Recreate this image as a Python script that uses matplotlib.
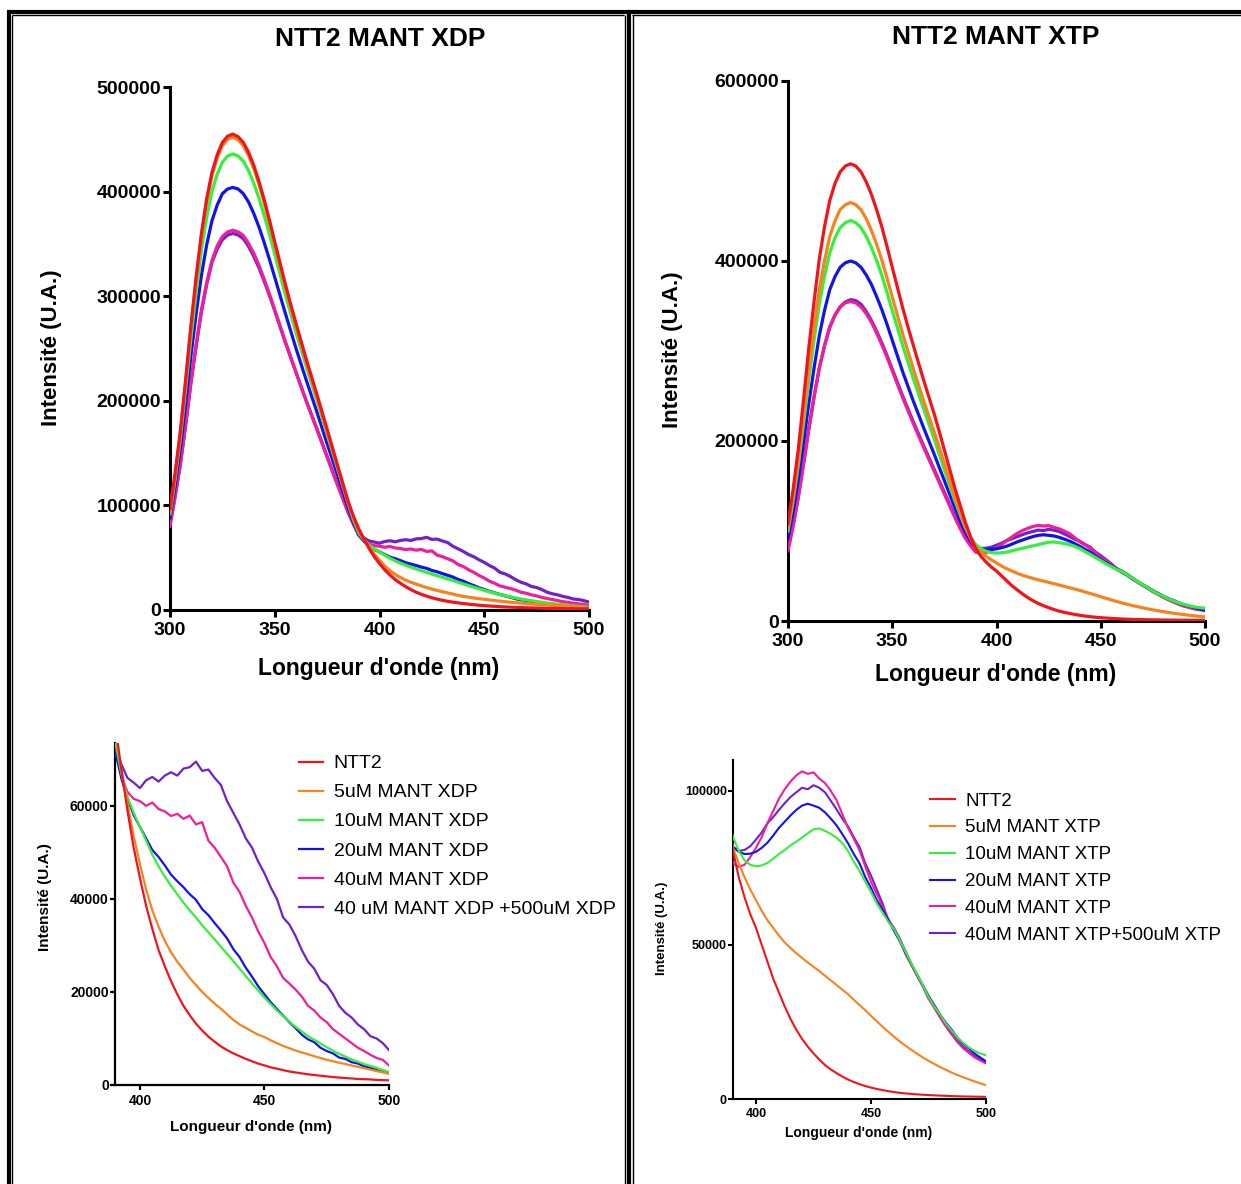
import matplotlib
matplotlib.use("Agg")
import matplotlib.pyplot as plt
from matplotlib.lines import Line2D

plt.rcParams["font.family"] = ["Liberation Sans", "DejaVu Sans"]

# wavelengths (nm), 2.5 nm steps
wl_peak = [300, 302.5, 305, 307.5, 310, 312.5, 315, 317.5, 320, 322.5, 325, 327.5,
           330, 332.5, 335, 337.5, 340, 342.5, 345, 347.5, 350, 352.5, 355, 357.5,
           360, 362.5, 365, 367.5, 370, 372.5, 375, 377.5, 380, 382.5, 385, 387.5]
wl_tail = [390, 392.5, 395, 397.5, 400, 402.5, 405, 407.5, 410, 412.5, 415, 417.5, 420, 422.5,
           425, 427.5, 430, 432.5, 435, 437.5, 440, 442.5, 445, 447.5, 450, 452.5, 455, 457.5,
           460, 462.5, 465, 467.5, 470, 472.5, 475, 477.5, 480, 482.5, 485, 487.5, 490, 492.5,
           495, 497.5, 500]
wavelength = wl_peak + wl_tail

# ---- NTT2 MANT XDP ----
xdp_ntt2 = [97000, 132000, 172000, 221000, 272000, 319000, 360000, 393000, 418000, 435000,
            447000, 453000, 455000, 452500, 447000, 437500, 425000, 409500, 392000, 372500,
            352000, 332000, 312000, 293000, 275000, 257500, 240000, 223500, 207000, 190000,
            173000, 155500, 138000, 121000, 104000, 90000,
            78000, 68000, 59000, 51000, 44500, 38500, 33500, 29000, 25500, 22300, 19500, 17000,
            15000, 13200, 11700, 10400, 9300, 8300, 7500, 6800, 6200, 5600, 5100, 4600, 4200,
            3800, 3500, 3200, 2900, 2700, 2500, 2300, 2150, 2000, 1850, 1700, 1600, 1500, 1400,
            1300, 1250, 1200, 1100, 1050, 1000]
xdp_5 = [94000, 129500, 170000, 219000, 270000, 316000, 357000, 390000, 415000, 432000,
         444000, 450000, 452000, 449500, 444000, 434500, 422000, 406500, 389000, 369500,
         349000, 329000, 309000, 290000, 272000, 254500, 237000, 220500, 204000, 187000,
         170000, 153000, 136000, 119500, 103000, 88500,
         76000, 68000, 60500, 53500, 47500, 42000, 37500, 34000, 31000, 28500, 26500, 24800,
         23000, 21500, 20000, 18700, 17500, 16400, 15200, 14000, 13000, 12300, 11500, 10800,
         10300, 9600, 9000, 8400, 7900, 7400, 7000, 6600, 6200, 5800, 5400, 5100, 4800, 4500,
         4200, 3900, 3600, 3300, 3000, 2700, 2400]
xdp_10 = [92000, 126000, 165000, 212000, 260000, 304000, 344000, 375000, 400000, 416500,
          428000, 434000, 436000, 434000, 429000, 420000, 408000, 393500, 377000, 359000,
          340000, 321000, 302000, 284000, 266000, 249500, 233000, 217000, 201000, 184500,
          168000, 151500, 135000, 118500, 102000, 86500,
          74000, 67000, 62000, 58500, 55500, 52500, 49500, 47000, 44800, 42800, 41000, 39200,
          37500, 36000, 34300, 32800, 31300, 29700, 28200, 26600, 25000, 23400, 21800, 20300,
          18800, 17400, 16000, 14800, 13600, 12500, 11500, 10500, 9700, 8900, 8100, 7400, 6700,
          6100, 5500, 5000, 4500, 4100, 3700, 3200, 2800]
xdp_20 = [88000, 119500, 155000, 198500, 243000, 283500, 320000, 349000, 372000, 387000,
          398000, 402500, 404000, 402500, 398000, 390000, 379000, 366000, 351000, 335000,
          318000, 301000, 284000, 267500, 251000, 235500, 220000, 205000, 190000, 174500,
          159000, 144000, 129000, 113500, 98000, 84000,
          72000, 66000, 61500, 58000, 55500, 53000, 50500, 49000, 47200, 45200, 43800, 42500,
          41000, 39800, 37800, 36500, 34800, 33200, 31500, 29200, 27500, 25200, 23300, 21200,
          19500, 17800, 16300, 14900, 13500, 12200, 10800, 9800, 9200, 8000, 7300, 6800, 5900,
          5600, 4900, 4600, 4000, 3700, 3200, 2900, 2600]
xdp_40 = [80000, 108500, 140000, 178000, 218000, 254000, 287000, 313000, 334000, 348000,
          357000, 361500, 363000, 361500, 358000, 350500, 341000, 329500, 316000, 302000,
          287000, 272000, 257000, 242500, 228000, 214000, 200000, 186500, 173000, 159500,
          146000, 132500, 119000, 106000, 93000, 82000,
          72000, 66500, 63000, 61500, 61000, 60000, 60700, 59300, 58800, 57800, 58300, 57200,
          57900, 56000, 56500, 52500, 51000, 49000, 47000, 43500, 41500, 38500, 36000, 33000,
          30500, 27500, 25500, 23000, 21800, 20500, 19000, 17000, 16000, 14500, 13500, 12000,
          11000, 10000, 9000, 8000, 7300, 6500, 5800, 5400, 4200]
xdp_40_500 = [82000, 109500, 140000, 177000, 217000, 252500, 285000, 311000, 332000, 345000,
              354000, 358500, 360000, 358500, 355000, 347500, 338000, 327000, 314000, 300500,
              286000, 271000, 256000, 242000, 228000, 214000, 200000, 187000, 174000, 160500,
              147000, 133500, 120000, 107500, 95000, 84000,
              73000, 69000, 66000, 65000, 63800, 65500, 66200, 65200, 66500, 67200, 66500, 68000,
              68300, 69500, 67500, 67800, 66000, 64500, 61000, 58500, 56000, 53000, 51000, 48000,
              45500, 42500, 40000, 36000, 34500, 32000, 29000, 26500, 25000, 22500, 21500, 19500,
              17000, 15500, 14500, 13000, 12000, 10500, 10000, 9000, 7500]

# ---- NTT2 MANT XTP ----
xtp_ntt2 = [108000, 147000, 192000, 247000, 304000, 355000, 402000, 438000, 467000, 486000,
            499000, 505500, 508000, 505500, 499000, 488000, 474000, 457000, 438000, 416000,
            393000, 370500, 348000, 327000, 307000, 287500, 268000, 249500, 231000, 211000,
            190000, 169000, 148000, 129000, 110000, 94000,
            80500, 72000, 65500, 60000, 55500, 50000, 44500, 39000, 34500, 30000, 26000, 22500,
            19500, 17000, 14800, 12800, 11000, 9600, 8400, 7300, 6300, 5500, 4800, 4200, 3700,
            3250, 2900, 2550, 2250, 2000, 1800, 1650, 1500, 1380, 1280, 1180, 1100, 1020, 950,
            890, 840, 800, 760, 730, 700]
xtp_5 = [104000, 139500, 180000, 229000, 280000, 326000, 368000, 400000, 427000, 444500,
         457000, 462500, 465000, 462500, 457000, 447000, 434000, 418500, 401000, 381000,
         360000, 339500, 319000, 300000, 281000, 263000, 245000, 228000, 211000, 193000,
         175000, 156500, 138000, 121000, 105000, 92000,
         81500, 76500, 72000, 68000, 64500, 61000, 58000, 55500, 53000, 50800, 49000, 47300,
         45800, 44300, 42900, 41500, 40000, 38500, 37000, 35500, 34000, 32200, 30500, 28800,
         27000, 25200, 23500, 21800, 20200, 18700, 17300, 16000, 14700, 13500, 12400, 11400,
         10400, 9500, 8600, 7800, 7100, 6400, 5700, 5100, 4500]
xtp_10 = [100000, 134000, 174000, 220000, 268000, 312000, 352000, 383000, 409000, 425500,
          437000, 442500, 445000, 442500, 437000, 427500, 415000, 400500, 384000, 365000,
          345000, 325500, 306000, 288000, 270000, 253000, 236000, 219500, 203000, 185500,
          168000, 151000, 134000, 118500, 104000, 93000,
          85000, 80500, 77500, 76000, 75500, 75800, 76600, 78000, 79500, 80800, 82300, 83500,
          84800, 86200, 87500, 87800, 87000, 86000, 84800, 83000, 80500, 77000, 74000, 70500,
          67200, 63500, 60500, 57500, 55000, 51500, 47800, 44000, 40500, 37000, 33200, 30000,
          27500, 24500, 22300, 20000, 18300, 16800, 15600, 14800, 14200]
xtp_20 = [92000, 122000, 158000, 199000, 242000, 281000, 317000, 345000, 368000, 382500,
          393000, 398000, 400000, 398000, 393000, 384500, 374000, 360500, 346000, 329500,
          312000, 294500, 277000, 261000, 245000, 230000, 215000, 200500, 186000, 171000,
          156000, 141000, 126000, 112000, 99000, 89000,
          81800, 80200, 79500, 79600, 80200, 81500, 83200, 85500, 88000, 90000, 92000, 93800,
          95200, 95800, 95200, 94500, 93000, 91000, 88800, 86000, 83000, 79500, 76500, 72000,
          68500, 64500, 61500, 58000, 54500, 51200, 47500, 43800, 40500, 37000, 33500, 30500,
          27500, 24800, 22600, 20000, 18000, 16500, 14800, 13500, 12200]
xtp_40 = [78000, 105500, 138000, 175000, 213000, 249000, 281000, 306000, 327000, 340000,
          349000, 353500, 355000, 353500, 349000, 341500, 332000, 320000, 307000, 293000,
          278000, 263000, 248000, 234000, 220000, 206500, 193000, 180000, 167000, 154000,
          141000, 128000, 115000, 103000, 92000, 83500,
          76500, 75300, 76000, 78500, 81500, 85000, 89500, 93500, 97500, 100500, 103000, 105000,
          106300, 105500, 106000, 104000, 102500, 100000, 97000, 92500, 88000, 84500, 80700,
          75500, 70500, 66500, 62500, 58500, 55000, 51500, 47000, 43500, 40000, 36500, 32500,
          29500, 26500, 23500, 21000, 18500, 16500, 15000, 13500, 12500, 11500]
xtp_40_500 = [80000, 107000, 139000, 175500, 214000, 249000, 281000, 305500, 326000, 339500,
              349000, 354500, 357000, 356000, 352000, 344000, 334000, 322000, 309000, 295000,
              280000, 265000, 250000, 236000, 222000, 208500, 195000, 182000, 169000, 156000,
              143000, 130000, 117000, 105500, 95000, 87500,
              81800, 80500, 80800, 82000, 84200, 86500, 89500, 91500, 93800, 96000, 98000, 99500,
              101000, 100500, 101800, 101000, 99500, 96800, 94000, 91000, 88500, 85000, 81800,
              76500, 72500, 68000, 63500, 58000, 55500, 52000, 48000, 44000, 40000, 36800, 33500,
              30000, 26800, 24000, 21500, 19000, 17000, 15500, 14000, 13000, 12200]

xdp_labels = ["NTT2", "5uM MANT XDP", "10uM MANT XDP", "20uM MANT XDP", "40uM MANT XDP",
              "40 uM MANT XDP +500uM XDP"]
xtp_labels = ["NTT2", "5uM MANT XTP", "10uM MANT XTP", "20uM MANT XTP", "40uM MANT XTP",
              "40uM MANT XTP+500uM XTP"]
colors = ["#f2141b", "#f7821e", "#35f03a", "#1212ee", "#f01e9c", "#7022c8"]

W, H = 1241, 1184


def rect(x0, y0, x1, y1):
    # pixel box (top-left origin) -> figure fraction [left, bottom, width, height]
    return [x0 / W, 1 - y1 / H, (x1 - x0) / W, (y1 - y0) / H]


def ftext(fig, x, y, s, **kw):
    fig.text(x / W, 1 - y / H, s, ha="center", va="center", **kw)


def draw_curves(ax, series, lw):
    lines = []
    for vals, color in zip(series, colors):
        lines.append(ax.plot(wavelength, vals, color=color, lw=lw)[0])
    # NTT2 ends up on top, as in the original
    for z, ln in enumerate(reversed(lines)):
        ln.set_zorder(2 + z)
    return lines


def style(ax, xticks, yticks, xlim, ylim, spine_w, tick_len, size, xpad, ypad):
    ax.set_xlim(*xlim)
    ax.set_ylim(*ylim)
    for side in ("top", "right"):
        ax.spines[side].set_visible(False)
    for side in ("left", "bottom"):
        ax.spines[side].set_linewidth(spine_w)
    ax.set_xticks(xticks)
    ax.set_xticklabels([str(t) for t in xticks], fontsize=size, fontweight="bold")
    ax.set_yticks(yticks)
    ax.set_yticklabels([str(t) for t in yticks], fontsize=size, fontweight="bold")
    ax.tick_params(direction="out", length=tick_len, width=spine_w)
    ax.tick_params(axis="x", pad=xpad)
    ax.tick_params(axis="y", pad=ypad)


fig = plt.figure(figsize=(W / 100, H / 100), dpi=100)

# ---------- left panel: XDP ----------
ax = fig.add_axes(rect(170, 87, 589, 610))
draw_curves(ax, [xdp_ntt2, xdp_5, xdp_10, xdp_20, xdp_40, xdp_40_500], 2.3)
style(ax, [300, 350, 400, 450, 500], [0, 100000, 200000, 300000, 400000, 500000],
      (300, 500), (0, 500000), 2.2, 5, 14, 3.5, 1.5)
ftext(fig, 380, 39, "NTT2 MANT XDP", fontsize=19, fontweight="bold")
ftext(fig, 379, 668, "Longueur d'onde (nm)", fontsize=16.5, fontweight="bold")
ftext(fig, 52, 348, "Intensité (U.A.)", fontsize=16, fontweight="bold", rotation=90)

ax = fig.add_axes(rect(115, 743, 389, 1085))
lines = draw_curves(ax, [xdp_ntt2, xdp_5, xdp_10, xdp_20, xdp_40, xdp_40_500], 1.6)
style(ax, [400, 450, 500], [0, 20000, 40000, 60000],
      (390, 500), (0, 73500), 1.6, 3.5, 10, 3, 1)
ftext(fig, 251, 1127, "Longueur d'onde (nm)", fontsize=11, fontweight="bold")
ftext(fig, 45, 897, "Intensité (U.A.)", fontsize=11, fontweight="bold", rotation=90)
ax.legend(lines, xdp_labels, loc="upper left", bbox_to_anchor=(289 / W, 1 - 745 / H),
          bbox_transform=fig.transFigure, frameon=False, fontsize=14, borderpad=0,
          handlelength=1.25, handletextpad=0.55, labelspacing=0.59)

# ---------- right panel: XTP ----------
ax = fig.add_axes(rect(788, 81, 1205, 621))
draw_curves(ax, [xtp_ntt2, xtp_5, xtp_10, xtp_20, xtp_40, xtp_40_500], 2.3)
style(ax, [300, 350, 400, 450, 500], [0, 200000, 400000, 600000],
      (300, 500), (0, 600000), 2.2, 5, 14, 3.5, 1.5)
ftext(fig, 996, 37, "NTT2 MANT XTP", fontsize=19, fontweight="bold")
ftext(fig, 996, 674, "Longueur d'onde (nm)", fontsize=16.5, fontweight="bold")
ftext(fig, 672, 350, "Intensité (U.A.)", fontsize=16, fontweight="bold", rotation=90)

ax = fig.add_axes(rect(733, 760, 986, 1099))
lines = draw_curves(ax, [xtp_ntt2, xtp_5, xtp_10, xtp_20, xtp_40, xtp_40_500], 1.5)
style(ax, [400, 450, 500], [0, 50000, 100000],
      (390, 500), (0, 110000), 1.5, 3.5, 9, 3, 1)
ftext(fig, 859, 1133, "Longueur d'onde (nm)", fontsize=10, fontweight="bold")
ftext(fig, 662, 928, "Intensité (U.A.)", fontsize=9.5, fontweight="bold", rotation=90)
ax.legend(lines, xtp_labels, loc="upper left", bbox_to_anchor=(921 / W, 1 - 783 / H),
          bbox_transform=fig.transFigure, frameon=False, fontsize=13.5, borderpad=0,
          handlelength=1.3, handletextpad=0.55, labelspacing=0.52)


# ---------- double-line frame ----------
def hline(y, x0, x1, lw):
    fig.add_artist(Line2D([x0 / W, x1 / W], [1 - y / H, 1 - y / H], color="black", lw=lw,
                          transform=fig.transFigure, solid_capstyle="butt"))


def vline(x, y0, y1, lw):
    fig.add_artist(Line2D([x / W, x / W], [1 - y0 / H, 1 - y1 / H], color="black", lw=lw,
                          transform=fig.transFigure, solid_capstyle="butt"))


hline(11.5, 7, W, 3)
hline(15, 12, 624, 1)
hline(15, 632, W, 1)
vline(8.5, 10, H, 3)
vline(12, 15, H, 1)
vline(624.5, 15, H, 1)
vline(628.5, 13, H, 3)
vline(632.5, 15, H, 1)

fig.savefig("out.png", dpi=100)
